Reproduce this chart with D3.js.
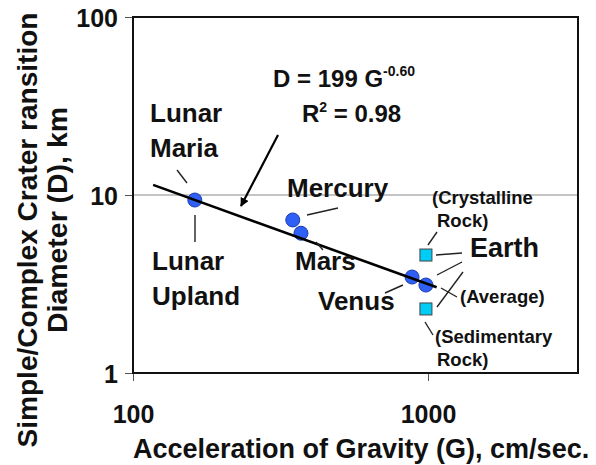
<!DOCTYPE html>
<html>
<head>
<meta charset="utf-8">
<script src="https://cdn.jsdelivr.net/npm/d3@7"></script>
<style>
  body { margin: 0; background: #fff; }
  text { font-family: "Liberation Sans", Arial, sans-serif; font-weight: bold; fill: #111; }
</style>
</head>
<body>
<div id="canvas"></div>
<script>
// planets (blue circles)
const planetNames = ["Lunar", "Mercury", "Mars", "Venus", "Earth"];
const planetG = [162, 348, 371, 883, 984];
const planetD = [9.37, 7.24, 6.1, 3.46, 3.12];

// Earth rock types (cyan squares)
const rockNames = ["Crystalline Rock", "Sedimentary Rock"];
const rockG = [984, 984];
const rockD = [4.6, 2.29];

// power-law fit D = 199 G^-0.60, end points as drawn
const fitG = [117, 1070];
const fitD = [11.4, 3.03];

const xTicks = [100, 1000];
const yTicks = [1, 10, 100];

const width = 596;
const height = 465;
const margin = { top: 17, left: 133, bottom: 92, right: 18 };
const iwidth = width - margin.left - margin.right;
const iheight = height - margin.top - margin.bottom;

const svg = d3.select("#canvas").append("svg")
  .attr("width", width)
  .attr("height", height);

// 295 px per decade on x, plot ends a bit past 3000
const x = d3.scaleLog().domain([100, Math.pow(10, 2 + iwidth / 295)]).range([margin.left, margin.left + iwidth]);
const y = d3.scaleLog().domain([1, 100]).range([margin.top + iheight, margin.top]);

// grid line at 10
svg.append("line")
  .attr("x1", x.range()[0]).attr("x2", x.range()[1])
  .attr("y1", y(10)).attr("y2", y(10))
  .attr("stroke", "#8a8a8a").attr("stroke-width", 1.2);

// axes
const yAxis = svg.append("g")
  .attr("transform", `translate(${margin.left},0)`)
  .call(d3.axisLeft(y).tickValues(yTicks).tickFormat(d3.format("d")).tickSize(8).tickPadding(7));
const xAxis = svg.append("g")
  .attr("transform", `translate(0,${margin.top + iheight})`)
  .call(d3.axisBottom(x).tickValues(xTicks).tickFormat(d3.format("d")).tickSize(8).tickPadding(25));

[xAxis, yAxis].forEach((a) => {
  a.select(".domain").remove();
  a.selectAll(".tick line").attr("stroke", "#555").attr("stroke-width", 1);
  a.selectAll(".tick text")
    .style("font-family", '"Liberation Sans", Arial, sans-serif')
    .style("font-weight", "bold")
    .style("font-size", "25px")
    .attr("fill", "#111");
});
yAxis.selectAll(".tick text").attr("dy", "0.38em").attr("x", -15);
xAxis.selectAll(".tick text").attr("dy", "0.71em").attr("y", 32);

// frame
svg.append("rect")
  .attr("x", margin.left).attr("y", margin.top)
  .attr("width", iwidth).attr("height", iheight)
  .attr("fill", "none").attr("stroke", "#111").attr("stroke-width", 2);

// planet points
svg.selectAll("circle.planet")
  .data(planetNames.map((n, i) => ({ name: n, g: planetG[i], d: planetD[i] })))
  .enter().append("circle")
  .attr("class", "planet")
  .attr("cx", (p) => x(p.g))
  .attr("cy", (p) => y(p.d))
  .attr("r", 7)
  .attr("fill", "#2f5ff5")
  .attr("stroke", "#1a3cb0")
  .attr("stroke-width", 1);

// fit line drawn over points like the original
svg.append("line")
  .attr("x1", x(fitG[0])).attr("y1", y(fitD[0]))
  .attr("x2", x(fitG[1])).attr("y2", y(fitD[1]))
  .attr("stroke", "#000").attr("stroke-width", 2.6);

// rock points
svg.selectAll("rect.rock")
  .data(rockNames.map((n, i) => ({ name: n, g: rockG[i], d: rockD[i] })))
  .enter().append("rect")
  .attr("class", "rock")
  .attr("x", (p) => x(p.g) - 6)
  .attr("y", (p) => y(p.d) - 6)
  .attr("width", 12).attr("height", 12)
  .attr("fill", "#00cdf5")
  .attr("stroke", "#444")
  .attr("stroke-width", 1);

// leader lines
const leaders = [
  [177, 170, 187, 183],
  [195, 215, 195, 242],
  [307, 215, 338, 208],
  [316, 242, 323, 250],
  [385, 293, 403, 285],
  [428, 245, 437, 232],
  [436, 255, 462, 253],
  [437, 275, 462, 262],
  [437, 307, 463, 272],
  [441, 288, 457, 297],
  [425, 322, 433, 335]
];
svg.selectAll("line.leader")
  .data(leaders)
  .enter().append("line")
  .attr("class", "leader")
  .attr("x1", (l) => l[0]).attr("y1", (l) => l[1])
  .attr("x2", (l) => l[2]).attr("y2", (l) => l[3])
  .attr("stroke", "#222").attr("stroke-width", 1.4);

// arrow to fit line
svg.append("defs").append("marker")
  .attr("id", "arrow")
  .attr("viewBox", "0 0 10 10")
  .attr("refX", 9).attr("refY", 5)
  .attr("markerWidth", 4).attr("markerHeight", 4)
  .attr("orient", "auto")
  .append("path").attr("d", "M0,0L10,5L0,10z").attr("fill", "#000");
svg.append("line")
  .attr("x1", 278).attr("y1", 135)
  .attr("x2", 241).attr("y2", 206)
  .attr("stroke", "#000").attr("stroke-width", 2.2)
  .attr("marker-end", "url(#arrow)");

// labels
const labels = [
  ["Lunar", 150, 122, 26],
  ["Maria", 150, 157, 26],
  ["Lunar", 152, 270, 26],
  ["Upland", 152, 305, 26],
  ["Mercury", 287, 197, 26],
  ["Mars", 295, 270, 26],
  ["Venus", 318, 310, 26],
  ["Earth", 470, 257, 27],
  ["(Crystalline", 432, 204, 18.5],
  ["Rock)", 437, 227, 18.5],
  ["(Average)", 460, 303, 18.5],
  ["(Sedimentary", 435, 343, 18.5],
  ["Rock)", 437, 366, 18.5]
];
svg.selectAll("text.lbl")
  .data(labels)
  .enter().append("text")
  .attr("class", "lbl")
  .attr("x", (l) => l[1]).attr("y", (l) => l[2])
  .style("font-size", (l) => l[3] + "px")
  .text((l) => l[0]);

// equation
const eq = svg.append("text").attr("x", 273).attr("y", 87).style("font-size", "24px");
eq.append("tspan").text("D = 199 G");
eq.append("tspan").attr("dy", -11).style("font-size", "14px").text("-0.60");
const r2 = svg.append("text").attr("x", 302).attr("y", 122).style("font-size", "24px");
r2.append("tspan").text("R");
r2.append("tspan").attr("dy", -10).style("font-size", "14px").text("2");
r2.append("tspan").attr("dy", 10).text(" = 0.98");

// axis titles
svg.append("text")
  .attr("x", 133).attr("y", 458)
  .style("font-size", "27px")
  .text("Acceleration of Gravity (G), cm/sec.");

svg.append("text")
  .attr("transform", "translate(37,230) rotate(-90)")
  .attr("text-anchor", "middle")
  .style("font-size", "27px")
  .attr("textLength", 435).attr("lengthAdjust", "spacingAndGlyphs")
  .text("Simple/Complex Crater ransition");
svg.append("text")
  .attr("transform", "translate(67,220) rotate(-90)")
  .attr("text-anchor", "middle")
  .style("font-size", "27px")
  .attr("textLength", 226).attr("lengthAdjust", "spacingAndGlyphs")
  .text("Diameter (D), km");
</script>
</body>
</html>
